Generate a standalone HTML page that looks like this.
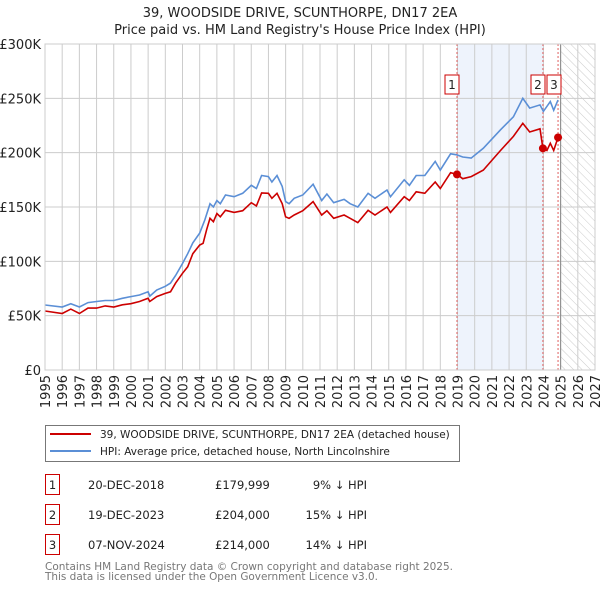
<!DOCTYPE html>
<html><head><meta charset="utf-8">
<style>
body{margin:0;background:#fff;font-family:"DejaVu Sans","Liberation Sans",sans-serif;}
#wrap{position:relative;width:600px;height:590px;overflow:hidden;}
svg text{font-family:"DejaVu Sans","Liberation Sans",sans-serif;}
</style></head>
<body><div id="wrap">
<svg id="chart" width="600" height="590"></svg>
</div>
<script>
const yTicks=[0,50,100,150,200,250,300];
const yTickLabels=["£0","£50K","£100K","£150K","£200K","£250K","£300K"];
const xYears=[1995,1996,1997,1998,1999,2000,2001,2002,2003,2004,2005,2006,2007,2008,2009,2010,2011,2012,2013,2014,2015,2016,2017,2018,2019,2020,2021,2022,2023,2024,2025,2026,2027];
const hpiYears=[1995,1996,1996.5,1997,1997.5,1998,1998.5,1999,1999.5,2000,2000.5,2001,2001.1,2001.5,2002,2002.3,2002.6,2003,2003.3,2003.6,2004,2004.3,2004.6,2004.8,2005,2005.2,2005.5,2006,2006.5,2007,2007.3,2007.6,2008,2008.2,2008.5,2008.8,2009,2009.2,2009.5,2010,2010.6,2011.1,2011.4,2011.8,2012.4,2012.75,2013.2,2013.8,2014.2,2014.9,2015.1,2015.9,2016.2,2016.6,2017.1,2017.7,2018,2018.6,2018.95,2019.3,2019.8,2020.5,2021.5,2022.25,2022.8,2023.2,2023.8,2024,2024.4,2024.6,2024.85];
const hpiValues=[59.8,58,61,58,62,63,64,64,66,67.5,69,72,68,73.6,77,80,87,98,107,117,126,138,153,150,156,153,161,159.5,162.6,170,167,179,178,173,179,169,155,153,158,161,171,156,162,154,157,153,150,162.6,158,165.6,159.5,175,170,179,179,192,184,199,198,196,195,204,221,233,250,241,244,238,247,239,248.5];
const priceYears=[1995,1996,1996.5,1997,1997.5,1998,1998.5,1999,1999.5,2000,2000.5,2001,2001.1,2001.5,2002,2002.3,2002.6,2003,2003.3,2003.6,2004,2004.2,2004.4,2004.6,2004.8,2005,2005.2,2005.5,2006,2006.5,2007,2007.3,2007.6,2008,2008.2,2008.5,2008.8,2009,2009.2,2009.5,2010,2010.6,2011.1,2011.4,2011.8,2012.4,2012.75,2013.2,2013.8,2014.2,2014.9,2015.1,2015.9,2016.2,2016.6,2017.1,2017.7,2018,2018.6,2018.97,2019.3,2019.8,2020.5,2021.5,2022.25,2022.8,2023.2,2023.8,2023.97,2024.2,2024.4,2024.6,2024.85];
const priceValues=[54.3,52,56,52,57,57,59,58,60,61,63,66,63,67.5,70.5,72,80,89,95,107,115,116.6,129,139.6,136.5,144,141,147,145,146.6,154,151,163,162.6,158,162.6,153,141,139.6,142.6,146.6,155,142.6,146.6,139.6,142.6,139.6,135.6,147,142.6,150,145,159.5,156,164,162.6,173,167,181.6,180,176,178,184,202,215,227,219,222,204,202,208.6,202,214];
const saleYears=[2018.97,2023.97,2024.85];
const saleValues=[179.999,204,214];
const saleLabels=["1","2","3"];
const saleDates=["20-DEC-2018","19-DEC-2023","07-NOV-2024"];
const salePrices=["£179,999","£204,000","£214,000"];
const saleDiffs=["9% ↓ HPI","15% ↓ HPI","14% ↓ HPI"];

const X0=45,X1=595,Y0=370,Y1=44;
function xs(y){return X0+(y-1995)/(2027-1995)*(X1-X0);}
function ys(v){return Y0-v/300*(Y0-Y1);}
const svg=document.getElementById('chart');
const NS='http://www.w3.org/2000/svg';
function el(tag,attrs,parent){const e=document.createElementNS(NS,tag);for(const k in attrs)e.setAttribute(k,attrs[k]);(parent||svg).appendChild(e);return e;}

const defs=el('defs',{});
const pat=el('pattern',{id:'hatch',width:6,height:6,patternUnits:'userSpaceOnUse',patternTransform:'rotate(-45)'},defs);
el('line',{x1:0,y1:0,x2:0,y2:6,stroke:'#ccc','stroke-width':1},pat);

let t=el('text',{x:300,y:17,'text-anchor':'middle','font-size':13,fill:'#222'});t.textContent='39, WOODSIDE DRIVE, SCUNTHORPE, DN17 2EA';

t=el('text',{x:300,y:34,'text-anchor':'middle','font-size':13,fill:'#222'});t.textContent="Price paid vs. HM Land Registry's House Price Index (HPI)";


let r=el('rect',{x:xs(saleYears[0]),y:Y1,width:xs(saleYears[1])-xs(saleYears[0]),height:Y0-Y1,fill:'#eef3fc'});

r=el('rect',{x:xs(2025),y:Y1,width:X1-xs(2025),height:Y0-Y1,fill:'url(#hatch)'});


yTicks.forEach((v,i)=>{
  const l=el('line',{x1:X0,x2:X1,y1:ys(v),y2:ys(v),stroke:'#ccc','stroke-width':1});
  
  const tx=el('text',{x:X0-4,y:ys(v)+5,'text-anchor':'end','font-size':13,fill:'#222'});tx.textContent=yTickLabels[i];
  
});
xYears.forEach(yr=>{
  const l=el('line',{x1:xs(yr),x2:xs(yr),y1:Y1,y2:Y0,stroke:'#ccc','stroke-width':1});
  
  const tx=el('text',{x:0,y:0,'text-anchor':'end','font-size':13,fill:'#222',transform:`translate(${xs(yr)+5},${Y0+5}) rotate(-90)`});tx.textContent=yr;
  
});

saleYears.forEach(yr=>{
  const l=el('line',{x1:xs(yr),x2:xs(yr),y1:Y1,y2:Y0,stroke:'#e06060','stroke-width':1,'stroke-dasharray':'2,2'});
  
});
let vl=el('line',{x1:xs(2025),x2:xs(2025),y1:Y1,y2:Y0,stroke:'#888','stroke-width':1});


function pathFrom(xa,va){return xa.map((x,i)=>(i?'L':'M')+xs(x).toFixed(1)+','+ys(va[i]).toFixed(1)).join(' ');}
let p=el('path',{d:pathFrom(hpiYears,hpiValues),fill:'none',stroke:'#5b8fd6','stroke-width':1.6});

p=el('path',{d:pathFrom(priceYears,priceValues),fill:'none',stroke:'#cc0000','stroke-width':1.6});


const boxX=[452,538,554];
saleYears.forEach((yr,i)=>{
  const c=el('circle',{cx:xs(yr),cy:ys(saleValues[i]),r:4,fill:'#cc0000'});
  
  const g=el('g',{});
  
  el('rect',{x:boxX[i]-7,y:75,width:14,height:19,fill:'#fff',stroke:'#cc0000','stroke-width':1},g);
  const tx=el('text',{x:boxX[i],y:89,'text-anchor':'middle','font-size':12,fill:'#222'},g);tx.textContent=saleLabels[i];
});
let b=el('rect',{x:X0,y:Y1,width:X1-X0,height:Y0-Y1,fill:'none',stroke:'#ccc'});


const lg=el('g',{});

el('rect',{x:45.5,y:425.5,width:414,height:36,fill:'#fff',stroke:'#777'},lg);
el('line',{x1:50,x2:91,y1:434,y2:434,stroke:'#cc0000','stroke-width':2},lg);
el('line',{x1:50,x2:91,y1:451,y2:451,stroke:'#5b8fd6','stroke-width':2},lg);
t=el('text',{x:100,y:438,'font-size':10.5,fill:'#222'},lg);t.textContent='39, WOODSIDE DRIVE, SCUNTHORPE, DN17 2EA (detached house)';

t=el('text',{x:100,y:455,'font-size':10.5,fill:'#222'},lg);t.textContent='HPI: Average price, detached house, North Lincolnshire';


saleLabels.forEach((lab,i)=>{
  const y=483+i*30;
  const g=el('g',{});
  
  el('rect',{x:45.5,y:y-8.5,width:14,height:20,fill:'#fff',stroke:'#cc0000'},g);
  let tx=el('text',{x:52.5,y:y+6,'text-anchor':'middle','font-size':11.5,fill:'#222'},g);tx.textContent=lab;
  tx=el('text',{x:88,y:y+6,'font-size':11.5,fill:'#222'},g);tx.textContent=saleDates[i];
  tx=el('text',{x:215,y:y+6,'font-size':11.5,fill:'#222'},g);tx.textContent=salePrices[i];
  tx=el('text',{x:367,y:y+6,'text-anchor':'end','font-size':11.5,fill:'#222'},g);tx.textContent=saleDiffs[i];
});
t=el('text',{x:45,y:570,'font-size':10.8,fill:'#777',textLength:408,lengthAdjust:'spacingAndGlyphs'});t.textContent='Contains HM Land Registry data © Crown copyright and database right 2025.';

t=el('text',{x:45,y:580,'font-size':10.8,fill:'#777',textLength:333,lengthAdjust:'spacingAndGlyphs'});t.textContent='This data is licensed under the Open Government Licence v3.0.';

</script>
</body></html>
